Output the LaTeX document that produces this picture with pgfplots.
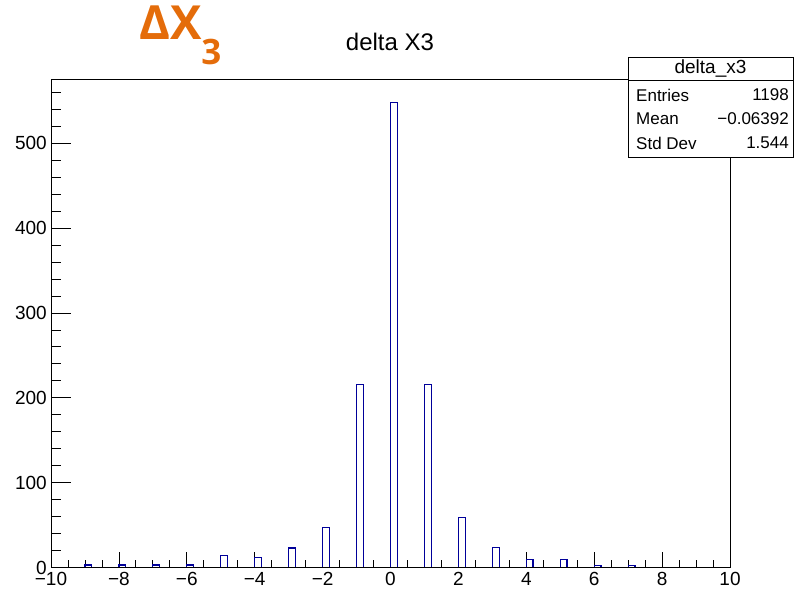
\documentclass[border=0pt]{standalone}
\usepackage{fontspec}
\setmainfont{Liberation Sans}
\newfontfamily\opensans{Open Sans}
\usepackage{pgfplots}
\pgfplotsset{compat=1.18}
\usepackage{pgfplotstable}
\definecolor{histblue}{RGB}{0,0,153}
\definecolor{dorange}{RGB}{228,108,10}

\pgfplotstableread{
x y
-10 0
-9 3
-8.8 0
-8 3
-7.8 0
-7 3
-6.8 0
-6 3
-5.8 0
-5 14
-4.8 0
-4 12
-3.8 0
-3 23
-2.8 0
-2 47
-1.8 0
-1 216
-0.8 0
0 548
0.2 0
1 216
1.2 0
2 59
2.2 0
3 24
3.2 0
4 9
4.2 0
5 9
5.2 0
6 2
6.2 0
7 2
7.2 0
10 0
}\histdata

\begin{document}
\begin{tikzpicture}[x=1pt,y=1pt]
\pgfplotsset{rootgeom/.style={
  at={(51pt,25.5pt)}, anchor=south west, scale only axis,
  width=679pt, height=488.2pt,
  xmin=-10, xmax=10, ymin=0, ymax=575.4,
  axis line style={line width=0.8pt},
  tick align=inside,
  tick style={black, line width=0.8pt},
  /pgf/number format/assume math mode=true,
}}
\begin{axis}[rootgeom,
  xtick={-10,-8,...,10},
  xticklabels={−10,−8,−6,−4,−2,0,2,4,6,8,10},
  minor xtick={-9.5,-9,...,9.5},
  xtick pos=left,
  ytick=\empty,
  major tick length=15pt, minor tick length=7.5pt,
  xticklabel style={font=\fontsize{19}{22}\selectfont, inner sep=0pt, anchor=north, yshift=-5pt},
]
\addplot[const plot, draw=histblue, line width=1.2pt] table[x=x,y=y]{\histdata};
\end{axis}
\begin{axis}[rootgeom,
  xtick=\empty,
  ytick={0,100,...,500},
  minor ytick={20,40,...,560},
  ytick pos=left,
  major tick length=20pt, minor tick length=10pt,
  yticklabel style={font=\fontsize{19}{22}\selectfont, inner sep=0pt, anchor=east, xshift=-4pt},
]
\end{axis}
% stats box
\draw[line width=0.8pt, fill=white] (628,436) rectangle (793,536);
\draw[line width=0.8pt] (628,513) -- (793,513);
\node[font=\fontsize{19}{22}\selectfont] at (710.5,524) {delta\_x3};
\node[font=\fontsize{17}{20}\selectfont, anchor=west, inner sep=0pt] at (636,498) {Entries};
\node[font=\fontsize{17}{20}\selectfont, anchor=west, inner sep=0pt] at (636,474) {Mean};
\node[font=\fontsize{17}{20}\selectfont, anchor=west, inner sep=0pt] at (636,450) {Std Dev};
\node[font=\fontsize{17}{20}\selectfont, anchor=east, inner sep=0pt] at (789,498) {1198};
\node[font=\fontsize{17}{20}\selectfont, anchor=east, inner sep=0pt] at (789,474) {−0.06392};
\node[font=\fontsize{17}{20}\selectfont, anchor=east, inner sep=0pt] at (789,450) {1.544};
% title
\node[font=\fontsize{24}{28}\selectfont] at (390,551) {delta X3};
% overlay label
\node[anchor=base west, inner sep=0pt, text=dorange] at (139,553)
  {\opensans\bfseries\fontsize{47}{47}\selectfont ΔX\raisebox{-25pt}{\fontsize{35}{35}\selectfont 3}};
\pgfresetboundingbox
\path (0,0) rectangle (794,593);
\end{tikzpicture}
\end{document}
